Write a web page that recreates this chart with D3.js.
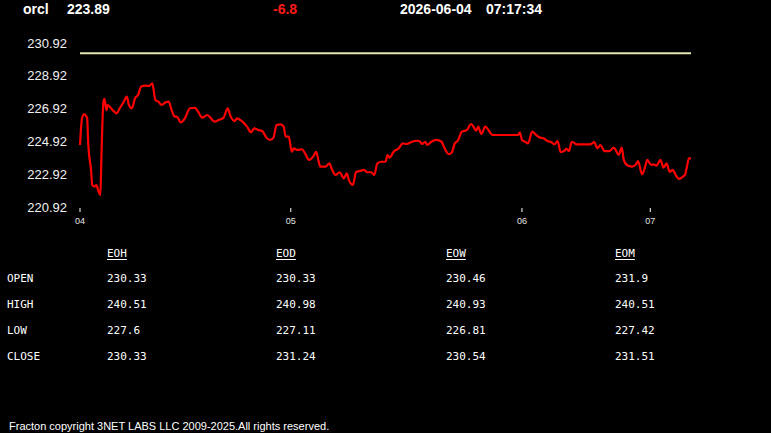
<!DOCTYPE html>
<meta charset="utf-8">
<head>
	<title>orcl intraday</title>
	<script type="text/javascript" src="https://cdn.jsdelivr.net/npm/d3@7"></script>
</head>
<style>
	body { margin: 0; background: #000; }
	.hdr { font-family: Arial, "Liberation Sans", sans-serif; font-size: 14px; font-weight: bold; fill: #fff; }
	.ylab { font-family: Arial, "Liberation Sans", sans-serif; font-size: 13px; fill: #f2f2f2; }
	.xlab { font-family: Arial, "Liberation Sans", sans-serif; font-size: 9px; fill: #e6e6e6; }
	.tbl { font-family: "DejaVu Sans Mono", monospace; font-size: 11px; fill: #fff; }
	.foot { font-family: Arial, "Liberation Sans", sans-serif; font-size: 11px; fill: #fff; }
</style>
<body>
<div id="chart"></div>
<script>
	// header values
	var symbol = "orcl";
	var lastPrice = "223.89";
	var change = "-6.8";
	var dateStr = "2026-06-04";
	var timeStr = "07:17:34";

	// price series: bar number and price
	var bars = [0,2,4,7,8,11,12,14,16,18,20,21,23,24,26,27,29,33,36,39,43,46,48,51,54,57,60,64,68,71,74,77,80,84,87,90,93,95,99,103,108,113,116,120,125,128,132,136,141,145,148,152,
		154,159,164,168,171,175,179,183,187,190,193,197,200,202,205,208,210,213,218,221,225,229,232,234,236,241,245,247,251,255,259,262,264,268,271,275,279,282,286,289,292,296,300,
		302,304,308,313,317,321,326,331,334,336,339,341,345,350,355,358,362,365,368,371,375,380,384,386,389,391,394,398,401,405,411,421,430,432,434,437,440,444,448,452,
		455,459,463,466,469,472,475,478,480,483,488,494,501,505,508,511,515,520,524,526,529,532,534,537,542,546,548,552,555,557,561,563,566,570,573,576,579,582,585,588,592,594,596,598,600];
	var prices = [224.70,226.33,226.57,226.35,224.90,223.07,222.26,222.16,222.26,221.90,221.65,223.91,227.34,227.51,226.83,227.14,227.04,226.77,226.63,226.94,227.34,227.65,227.14,226.94,227.55,227.75,228.26,228.32,228.30,228.46,227.44,227.34,227.14,227.30,227.34,226.83,226.43,226.43,226.08,226.33,226.94,226.97,226.73,226.37,226.53,226.37,226.12,226.22,226.37,226.94,226.43,226.16,
		226.33,226.16,225.82,225.47,225.72,225.62,225.55,225.15,225.01,225.15,225.92,225.96,225.82,225.21,225.21,224.29,224.50,224.40,224.44,224.19,223.79,223.99,224.29,223.79,223.38,223.38,223.58,223.28,222.87,223.04,222.67,222.97,222.57,222.26,223.04,223.12,223.18,223.04,223.04,222.87,223.58,223.68,223.68,
		224.09,223.93,224.29,224.50,224.80,224.76,224.90,224.96,224.90,224.76,224.90,224.70,224.90,225.01,224.90,224.50,224.15,224.23,224.80,224.96,225.51,225.62,225.98,225.86,225.57,225.82,225.37,225.82,225.62,225.31,225.31,225.31,225.31,225.45,225.01,224.90,224.80,225.51,225.31,225.15,
		225.11,224.94,224.87,224.74,224.94,224.26,224.33,224.46,224.33,224.90,224.74,224.74,224.74,224.87,224.50,224.70,224.33,224.33,224.54,224.40,224.09,224.54,223.79,223.48,223.38,223.52,223.72,222.91,223.38,223.79,223.48,223.52,223.44,223.79,223.32,223.58,223.07,223.18,222.87,222.63,222.77,222.87,223.38,223.89,223.89];

	// reference level (yellow line)
	var refLevel = 230.3;

	// axis ticks
	var yTicks = [220.92, 222.92, 224.92, 226.92, 228.92, 230.92];
	var xTickBars = [0, 207, 434, 560];
	var xTickLabels = ["04", "05", "06", "07"];

	// summary table
	var tblCols = ["EOH", "EOD", "EOW", "EOM"];
	var tblRows = ["OPEN", "HIGH", "LOW", "CLOSE"];
	var tblOpen = ["230.33", "230.33", "230.46", "231.9"];
	var tblHigh = ["240.51", "240.98", "240.93", "240.51"];
	var tblLow = ["227.6", "227.11", "226.81", "227.42"];
	var tblClose = ["230.33", "231.24", "230.54", "231.51"];

	var footer = "Fracton copyright 3NET LABS LLC 2009-2025.All rights reserved.";

	var w = 771, h = 433;
	var svg = d3.select("#chart").append("svg")
		.attr("width", w).attr("height", h)
		.style("background", "#000")
		.style("display", "block");

	// header line
	var hdr = [[symbol, 23, "#fff"], [lastPrice, 67, "#fff"], [change, 273, "#ff1a1a"], [dateStr, 400, "#fff"], [timeStr, 486, "#fff"]];
	svg.selectAll("text.hdr").data(hdr).enter().append("text")
		.attr("class", "hdr")
		.attr("x", d => d[1]).attr("y", 14)
		.style("fill", d => d[2])
		.text(d => d[0]);

	// scales
	var x = d3.scaleLinear().domain([0, 600]).range([80, 691]);
	var y = d3.scaleLinear().domain([220.92, 230.92]).range([207, 43]);

	// y labels
	svg.selectAll("text.ylab").data(yTicks).enter().append("text")
		.attr("class", "ylab")
		.attr("x", 67).attr("y", d => y(d))
		.attr("dy", "0.36em")
		.attr("text-anchor", "end")
		.text(d => d.toFixed(2));

	// x ticks
	var xt = svg.selectAll("g.xt").data(xTickBars).enter().append("g")
		.attr("transform", d => "translate(" + x(d) + ",0)");
	xt.append("line").attr("y1", 208).attr("y2", 212).attr("stroke", "#fff").attr("stroke-width", 1);
	xt.append("text").attr("class", "xlab")
		.attr("y", 224).attr("text-anchor", "middle")
		.text((d, i) => xTickLabels[i]);

	// reference line
	svg.append("line")
		.attr("x1", x(0)).attr("x2", x(600))
		.attr("y1", y(refLevel)).attr("y2", y(refLevel))
		.attr("stroke", "#e6e6b0").attr("stroke-width", 2);

	// price line
	var pts = bars.map((b, i) => [b, prices[i]]);
	var line = d3.line().x(d => x(d[0])).y(d => y(d[1])).curve(d3.curveMonotoneX);
	svg.append("path")
		.datum(pts)
		.attr("d", line)
		.attr("fill", "none")
		.attr("stroke", "#ff0000")
		.attr("stroke-width", 2.2)
		.attr("stroke-linejoin", "round");

	// table
	var colX = [107, 276, 446, 615];
	var rowY = [282, 308, 334, 360];
	var cells = [tblOpen, tblHigh, tblLow, tblClose];
	tblCols.forEach(function(c, i) {
		var t = svg.append("text").attr("class", "tbl")
			.attr("x", colX[i]).attr("y", 257).text(c);
		var len = t.node().getComputedTextLength();
		svg.append("line")
			.attr("x1", colX[i]).attr("x2", colX[i] + len)
			.attr("y1", 259.5).attr("y2", 259.5)
			.attr("stroke", "#fff").attr("stroke-width", 1);
	});
	tblRows.forEach(function(r, j) {
		svg.append("text").attr("class", "tbl").attr("x", 7).attr("y", rowY[j]).text(r);
		cells[j].forEach(function(v, i) {
			svg.append("text").attr("class", "tbl").attr("x", colX[i]).attr("y", rowY[j]).text(v);
		});
	});

	// footer
	svg.append("text").attr("class", "foot")
		.attr("x", 9).attr("y", 430)
		.text(footer);
</script>
</body>
